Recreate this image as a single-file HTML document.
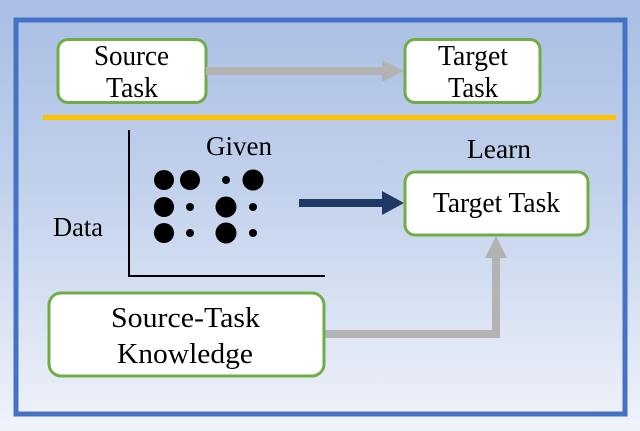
<!DOCTYPE html>
<html><head><style>
html,body{margin:0;padding:0}
body{width:640px;height:431px;overflow:hidden;background:linear-gradient(#a9bee4 0%,#c3d2ec 45%,#f0f3fa 100%)}
svg text{font-family:"Liberation Serif","DejaVu Serif","Noto Serif CJK SC",serif}
</style></head><body>
<svg width="640" height="431" viewBox="0 0 640 431" style="position:absolute;left:0;top:0">
<rect x="16" y="20" width="609" height="394" fill="none" stroke="#4472c4" stroke-width="5"/>
<rect x="58" y="39.5" width="148" height="63" rx="10" fill="#fff" stroke="#70ad47" stroke-width="3"/>
<rect x="405" y="39.5" width="135" height="63" rx="10" fill="#fff" stroke="#70ad47" stroke-width="3"/>
<rect x="206" y="67" width="178" height="8" fill="#b3b3b3"/>
<polygon points="382,60 404,71 382,82" fill="#b3b3b3"/>
<rect x="43" y="115" width="573" height="5" fill="#ffc000"/>
<line x1="129" y1="130" x2="129" y2="277" stroke="#000" stroke-width="2"/>
<line x1="128" y1="276" x2="325" y2="276" stroke="#000" stroke-width="2"/>
<g fill="#000">
<circle cx="164" cy="180" r="10"/><circle cx="190" cy="180" r="10"/><circle cx="226" cy="180" r="4"/><circle cx="253" cy="180" r="10.5"/>
<circle cx="164" cy="207" r="10"/><circle cx="190" cy="207" r="4"/><circle cx="226" cy="207" r="10.5"/><circle cx="253" cy="207" r="4"/>
<circle cx="164" cy="233" r="10"/><circle cx="190" cy="233" r="4"/><circle cx="226" cy="233" r="10.5"/><circle cx="253" cy="233" r="4"/>
</g>
<rect x="299" y="199" width="85" height="8" fill="#203864"/>
<polygon points="382,191 404,203 382,215" fill="#203864"/>
<rect x="405" y="172" width="183" height="63" rx="10" fill="#fff" stroke="#70ad47" stroke-width="3"/>
<rect x="324" y="330" width="176" height="8" fill="#b3b3b3"/>
<rect x="492" y="256" width="8" height="82" fill="#b3b3b3"/>
<polygon points="485,258 496,236 507,258" fill="#b3b3b3"/>
<rect x="49" y="293" width="275" height="83" rx="12" fill="#fff" stroke="#70ad47" stroke-width="3"/>
<g fill="#000" font-size="29" style="font-family:'Liberation Serif','DejaVu Serif','Noto Serif CJK SC',serif">
<text x="94" y="65" textLength="75" lengthAdjust="spacingAndGlyphs">Source</text>
<text x="106" y="97" textLength="52" lengthAdjust="spacingAndGlyphs">Task</text>
<text x="438" y="65" textLength="70" lengthAdjust="spacingAndGlyphs">Target</text>
<text x="448" y="97" textLength="50" lengthAdjust="spacingAndGlyphs">Task</text>
<text x="206" y="155" font-size="27" textLength="66" lengthAdjust="spacingAndGlyphs">Given</text>
<text x="467" y="158" font-size="27" textLength="64" lengthAdjust="spacingAndGlyphs">Learn</text>
<text x="53" y="236" font-size="27" textLength="50" lengthAdjust="spacingAndGlyphs">Data</text>
<text x="433" y="212" font-size="28" textLength="127" lengthAdjust="spacingAndGlyphs">Target Task</text>
<text x="111" y="327" textLength="149" lengthAdjust="spacingAndGlyphs">Source-Task</text>
<text x="117" y="363" textLength="136" lengthAdjust="spacingAndGlyphs">Knowledge</text>
</g>
</svg>
</body></html>
